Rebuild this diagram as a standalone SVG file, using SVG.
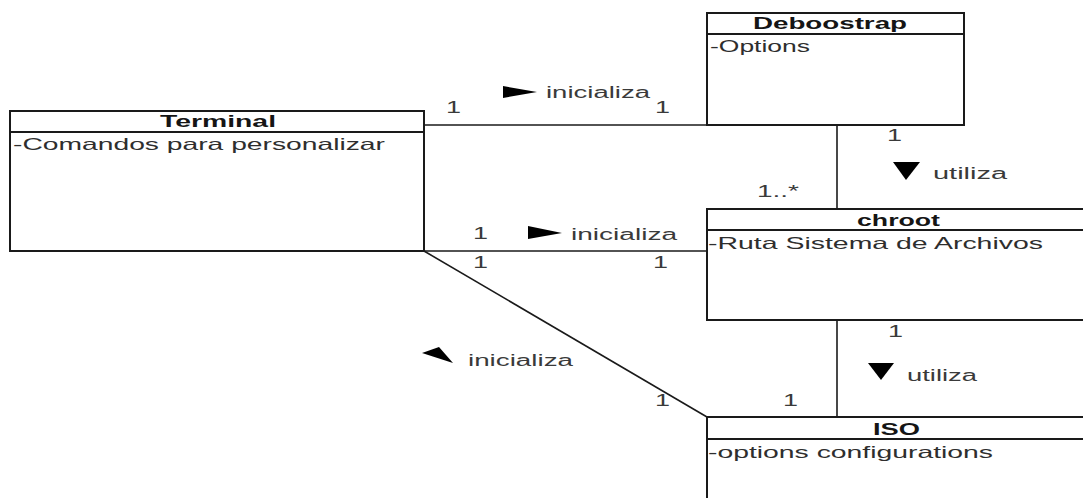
<svg xmlns="http://www.w3.org/2000/svg" width="1083" height="498" viewBox="0 0 1083 498">
  <style>
    .box { fill: #ffffff; stroke: #1a1a1a; stroke-width: 2; }
    .sep { stroke: #1a1a1a; stroke-width: 2; }
    .name { font-family: "Liberation Sans", Arial, sans-serif; font-size: 16px; font-weight: bold; fill: #151515; }
    .attr { font-family: "Liberation Sans", Arial, sans-serif; font-size: 16.5px; fill: #2e2e2e; }
    .lbl { font-family: "Liberation Sans", Arial, sans-serif; font-size: 16px; fill: #3a3a3a; }
    .edge { fill: none; stroke: #1a1a1a; stroke-width: 1.6; }
    .dir { fill: #000; stroke: none; }
  </style>
  <rect width="1083" height="498" fill="#ffffff"/>

  <!-- associations -->
  <g id="connectors">
    <!-- Terminal -> Deboostrap -->
    <line class="edge" x1="424" y1="125" x2="707" y2="125"/>
    <text class="lbl" x="446" y="113" textLength="15" lengthAdjust="spacingAndGlyphs">1</text>
    <text class="lbl" x="655" y="113" textLength="15" lengthAdjust="spacingAndGlyphs">1</text>
    <polygon class="dir" points="503,86 537,92 503,98"/>
    <text class="lbl" x="546" y="98" textLength="104" lengthAdjust="spacingAndGlyphs">inicializa</text>

    <!-- Terminal -> chroot -->
    <line class="edge" x1="424" y1="251" x2="707" y2="251"/>
    <text class="lbl" x="473" y="239" textLength="15" lengthAdjust="spacingAndGlyphs">1</text>
    <polygon class="dir" points="528,226 562,233 528,239"/>
    <text class="lbl" x="571" y="240" textLength="106" lengthAdjust="spacingAndGlyphs">inicializa</text>
    <text class="lbl" x="473" y="268" textLength="15" lengthAdjust="spacingAndGlyphs">1</text>
    <text class="lbl" x="653" y="268" textLength="15" lengthAdjust="spacingAndGlyphs">1</text>

    <!-- Terminal -> ISO -->
    <line class="edge" x1="424" y1="251" x2="707" y2="417"/>
    <polygon class="dir" points="422,353 439,347 453,363"/>
    <text class="lbl" x="468" y="366" textLength="105" lengthAdjust="spacingAndGlyphs">inicializa</text>
    <text class="lbl" x="655" y="406" textLength="15" lengthAdjust="spacingAndGlyphs">1</text>
    <text class="lbl" x="783" y="406" textLength="15" lengthAdjust="spacingAndGlyphs">1</text>

    <!-- Deboostrap -> chroot -->
    <line class="edge" x1="837" y1="125" x2="837" y2="209"/>
    <text class="lbl" x="887" y="141" textLength="15" lengthAdjust="spacingAndGlyphs">1</text>
    <polygon class="dir" points="893,162 920,162 906,180"/>
    <text class="lbl" x="933" y="179" textLength="74" lengthAdjust="spacingAndGlyphs">utiliza</text>
    <text class="lbl" x="757" y="197" textLength="42" lengthAdjust="spacingAndGlyphs">1..*</text>

    <!-- chroot -> ISO -->
    <line class="edge" x1="837" y1="320" x2="837" y2="417"/>
    <text class="lbl" x="888" y="337" textLength="15" lengthAdjust="spacingAndGlyphs">1</text>
    <polygon class="dir" points="868,363 894,363 881,380"/>
    <text class="lbl" x="907" y="381" textLength="70" lengthAdjust="spacingAndGlyphs">utiliza</text>
  </g>

  <g id="terminal">
    <rect class="box" x="10" y="111" width="414" height="140"/>
    <line class="sep" x1="10" y1="132" x2="424" y2="132"/>
    <text class="name" x="160" y="127" textLength="116" lengthAdjust="spacingAndGlyphs">Terminal</text>
    <text class="attr" x="13" y="150" textLength="372" lengthAdjust="spacingAndGlyphs">-Comandos para personalizar</text>
  </g>

  <g id="deboostrap">
    <rect class="box" x="707" y="13" width="257" height="112"/>
    <line class="sep" x1="707" y1="34" x2="964" y2="34"/>
    <text class="name" x="753" y="29" textLength="154" lengthAdjust="spacingAndGlyphs">Deboostrap</text>
    <text class="attr" x="710" y="52" textLength="100" lengthAdjust="spacingAndGlyphs">-Options</text>
  </g>

  <g id="chroot">
    <rect class="box" x="707" y="209" width="382" height="111"/>
    <line class="sep" x1="707" y1="230" x2="1089" y2="230"/>
    <text class="name" x="857" y="226" textLength="83" lengthAdjust="spacingAndGlyphs">chroot</text>
    <text class="attr" x="708" y="249" textLength="335" lengthAdjust="spacingAndGlyphs">-Ruta Sistema de Archivos</text>
  </g>

  <g id="iso">
    <rect class="box" x="707" y="417" width="382" height="100"/>
    <line class="sep" x1="707" y1="439" x2="1089" y2="439"/>
    <text class="name" x="873" y="435" textLength="47" lengthAdjust="spacingAndGlyphs">ISO</text>
    <text class="attr" x="708" y="458" textLength="285" lengthAdjust="spacingAndGlyphs">-options configurations</text>
  </g>
</svg>
